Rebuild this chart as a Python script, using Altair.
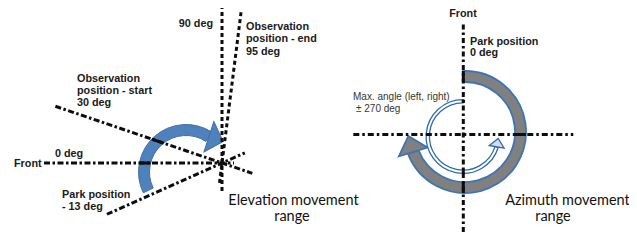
import math
import altair as alt
import pandas as pd

# ---------------- data ----------------
# Elevation diagram: lines through the pivot, angles as drawn (deg, upward from "Front")
elev_names = ["0 deg", "30 deg", "-13 deg", "90 deg", "95 deg"]
elev_drawn_deg = [0.0, 18.8, -24.0, 90.0, 97.2]
elev_len_back = [178, 176, 126, 158, 152]
elev_len_fwd = [12, 32, 25, 29, 22]
elev_pivot = [222, 163]

# Azimuth diagram: cross of two axes
azi_center = [463.3, 134.5]
azi_axis_names = ["front-back", "left-right"]
azi_axis_deg = [90.0, 0.0]
azi_len_back = [110, 110]     # up / left
azi_len_fwd = [112, 110]      # down / right

# rings: center, inner/outer radius, start/end angle (deg, clockwise from 12 o'clock)
ring_names = ["elevation", "azimuth", "azimuth-inner"]
ring_cx = [186, 465, 463]
ring_cy = [172, 132, 136.5]
ring_r_in = [36.5, 50, 33.6]
ring_r_out = [47.5, 61, 36.9]
ring_t0 = [244, -2, 107]
ring_t1 = [393, 249, 360]

# arrow heads at the ring ends: width, length, direction (deg, clockwise from +x)
head_width = [32, 30, 15]
head_len = [15, 16.5, 8.5]
head_dir = [18, 253, 280]
head_end = ["t1", "t1", "t0"]

# labels
lab_text = ["90 deg", "Observation", "position - end", "95 deg",
            "Observation", "position - start", "30 deg", "0 deg", "Front",
            "Park position", "- 13 deg",
            "Front", "Park position", "0 deg"]
lab_x = [213, 246, 246, 246, 77, 77, 77, 55, 14, 62, 62, 463, 470, 470]
lab_y = [27, 29.5, 42, 54.5, 81.5, 93.5, 105.5, 156.5, 166.5, 197.5, 209.5, 17, 44.5, 56]
lab_align = ["right"] + ["left"] * 10 + ["center", "left", "left"]

small_text = ["Max. angle (left, right)", "\u00b1 270 deg"]
small_x = [353, 356]
small_y = [99.5, 111.5]

big_text = ["Elevation movement", "range", "Azimuth movement", "range"]
big_x = [293.5, 292, 567.5, 553]
big_y = [204.5, 220.5, 204.5, 220.5]

# ---------------- geometry helpers ----------------
W, H = 621, 226
xs = alt.Scale(domain=[8, 8 + W], nice=False, zero=False)
ys = alt.Scale(domain=[8, 8 + H], nice=False, zero=False, reverse=True)
X = lambda f: alt.X(f, type="quantitative", scale=xs, axis=None)
Y = lambda f: alt.Y(f, type="quantitative", scale=ys, axis=None)


def seg_from(p, deg, back, fwd):
    a = math.radians(deg)
    dx, dy = -math.cos(a), -math.sin(a)
    return (p[0] + back * dx, p[1] + back * dy, p[0] - fwd * dx, p[1] - fwd * dy)


segs = []
for n, d, b, f in zip(elev_names, elev_drawn_deg, elev_len_back, elev_len_fwd):
    segs.append((n, seg_from(elev_pivot, d, b, f)))
for n, d, b, f in zip(azi_axis_names, azi_axis_deg, azi_len_back, azi_len_fwd):
    segs.append((n, seg_from(azi_center, d, b, f)))

dash = {"0 deg": [6, 2.5, 2.5, 2.5], "30 deg": [6, 2.5, 2.5, 2.5], "-13 deg": [6, 2.5, 2.5, 2.5],
        "90 deg": [4, 3], "95 deg": [4, 3],
        "front-back": [5, 3, 2.5, 3], "left-right": [6, 3, 2.5, 3]}


def in_range(th, t0, t1):
    return ((th - t0) % 360) <= (t1 - t0) + 1.5 or ((th - t0) % 360) >= 358.5


def crossings(seg, i):
    x0, y0, x1, y1 = seg
    cx, cy = ring_cx[i], ring_cy[i]
    ux, uy = x1 - x0, y1 - y0
    px, py = x0 - cx, y0 - cy
    A = ux * ux + uy * uy
    B = 2 * (ux * px + uy * py)

    def roots(r):
        C = px * px + py * py - r * r
        disc = B * B - 4 * A * C
        if disc < 0:
            return None
        s = math.sqrt(disc)
        return ((-B - s) / (2 * A), (-B + s) / (2 * A))

    ro = roots(ring_r_out[i])
    if ro is None:
        return []
    ri = roots(ring_r_in[i])
    parts = [(ro[0], ro[1])] if ri is None else [(ro[0], ri[0]), (ri[1], ro[1])]
    out = []
    for a, b in parts:
        a, b = max(a, 0.0), min(b, 1.0)
        if b <= a:
            continue
        m = (a + b) / 2
        mx, my = x0 + m * ux - cx, y0 + m * uy - cy
        th = math.degrees(math.atan2(mx, -my)) % 360
        if in_range(th, ring_t0[i], ring_t1[i]):
            out.append((x0 + a * ux, y0 + a * uy, x0 + b * ux, y0 + b * uy))
    return out


ring_df = pd.DataFrame({
    "name": ring_names, "cx": ring_cx, "cy": ring_cy,
    "r_in": ring_r_in, "r_out": ring_r_out,
    "t0": [math.radians(t) for t in ring_t0],
    "t1": [math.radians(t) for t in ring_t1],
})

heads = []
for i in range(3):
    t = ring_t1[i] if head_end[i] == "t1" else ring_t0[i]
    r = (ring_r_in[i] + ring_r_out[i]) / 2
    a = math.radians(t)
    heads.append({"x": ring_cx[i] + r * math.sin(a), "y": ring_cy[i] - r * math.cos(a),
                  "ang": head_dir[i] % 360, "size": head_width[i] ** 2,
                  "k": 2 * head_len[i] / head_width[i]})

styles = [
    dict(fill="#4f81bd", stroke="#3f6fa6", strokeWidth=1),
    dict(fill="#808080", stroke="#3d74b4", strokeWidth=1.8),
    dict(fill="#ffffff", stroke="#2f6aad", strokeWidth=1.3),
]
head_fill = ["#4f81bd", "#808080", "#d9dde3"]

layers = []
for i in range(3):
    layers.append(
        alt.Chart(ring_df.iloc[[i]]).mark_arc(**styles[i]).encode(
            x=X("cx"), y=Y("cy"),
            theta=alt.Theta("t0:Q", scale=None, stack=None),
            theta2="t1:Q",
            radius=alt.Radius("r_out:Q", scale=None),
            radius2="r_in:Q",
        )
    )
    h = heads[i]
    path = f"M 0 -1 L {h['k']:.3f} 0 L 0 1 Z"
    layers.append(
        alt.Chart(pd.DataFrame([h])).mark_point(
            shape=path, filled=True, fill=head_fill[i], opacity=1,
            stroke=styles[i]["stroke"], strokeWidth=styles[i]["strokeWidth"]
        ).encode(
            x=X("x"), y=Y("y"),
            angle=alt.Angle("ang:Q", scale=None),
            size=alt.Size("size:Q", scale=None),
        )
    )

# dashed lines on top
for n, s in segs:
    df = pd.DataFrame([{"x": s[0], "y": s[1], "x2": s[2], "y2": s[3]}])
    layers.append(
        alt.Chart(df).mark_rule(color="#0d0d0d", strokeWidth=3,
                                strokeDash=dash[n], strokeCap="butt").encode(
            x=X("x"), y=Y("y"), x2="x2", y2="y2")
    )

# solid bars where lines cross the rings
bars = []
for n, s in segs:
    for i in range(3):
        for c in crossings(s, i):
            bars.append({"x": c[0], "y": c[1], "x2": c[2], "y2": c[3]})
if bars:
    layers.append(
        alt.Chart(pd.DataFrame(bars)).mark_rule(color="#0d0d0d", strokeWidth=3,
                                                strokeCap="butt").encode(
            x=X("x"), y=Y("y"), x2="x2", y2="y2")
    )

lab_df = pd.DataFrame({"t": lab_text, "x": lab_x, "y": lab_y, "a": lab_align})
for al in ["left", "right", "center"]:
    sub = lab_df[lab_df.a == al]
    layers.append(
        alt.Chart(sub).mark_text(align=al, baseline="alphabetic", font="Liberation Sans",
                                 fontSize=10.8, fontWeight="bold", color="#1a1a1a").encode(
            x=X("x"), y=Y("y"), text="t:N")
    )

layers.append(
    alt.Chart(pd.DataFrame({"t": small_text, "x": small_x, "y": small_y})).mark_text(
        align="left", baseline="alphabetic", font="Liberation Sans", fontSize=10,
        color="#3a3530").encode(x=X("x"), y=Y("y"), text="t:N")
)
layers.append(
    alt.Chart(pd.DataFrame({"t": big_text, "x": big_x, "y": big_y})).mark_text(
        align="center", baseline="alphabetic", font="Lato", fontSize=14.5,
        color="#111111").encode(x=X("x"), y=Y("y"), text="t:N")
)

chart = alt.layer(*layers).properties(
    width=W, height=H, padding=0,
    autosize=alt.AutoSizeParams(type="none"),
    background="white",
).configure_view(stroke=None)

chart.save("out.html", embed_options={"renderer": "svg", "actions": False})
